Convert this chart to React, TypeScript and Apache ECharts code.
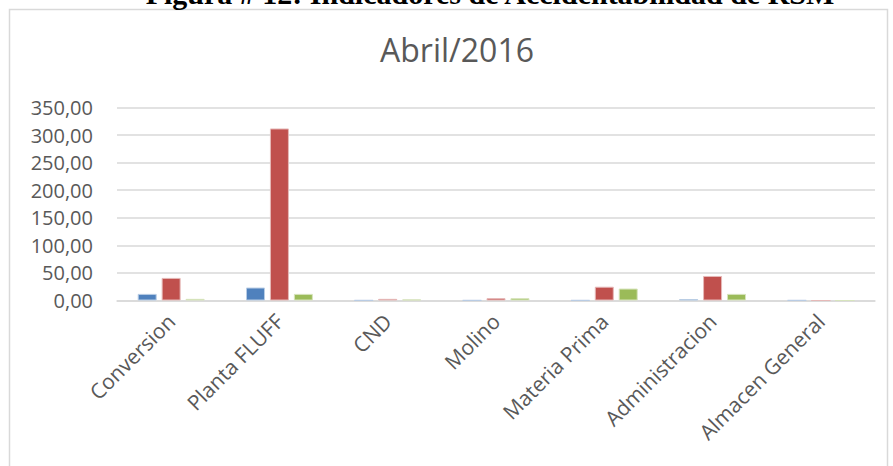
import React, { useEffect, useRef } from "react";
import * as echarts from "echarts";

const categories = ["Conversion", "Planta FLUFF", "CND", "Molino", "Materia Prima", "Administracion", "Almacen General"];
const seriesBlue = [12, 23.5, 0.5, 0.5, 0.5, 2.5, 0.5];
const seriesRed = [41, 312, 3, 4.3, 25, 44.5, 0];
const seriesGreen = [3, 12, 2, 4.3, 21.7, 12, 0];
const yTicks = { min: 0, max: 350, interval: 50 };
const chartTitle = "Abril/2016";
const figureCaption = "Figura # 12: Indicadores de Accidentabilidad de RSM";

const FONT = "'Open Sans', sans-serif";

export default function App() {
  const ref = useRef<HTMLDivElement>(null);
  useEffect(() => {
    if (!ref.current) return;
    const chart = echarts.init(ref.current, undefined, { renderer: "svg" });
    const mk = (name: string, data: number[], color: string, border: string) => ({
      name,
      type: "bar",
      data,
      barWidth: 19,
      barGap: "26%",
      itemStyle: { color, borderColor: border, borderWidth: 1 },
    });
    chart.setOption({
      animation: false,
      backgroundColor: "#ffffff",
      graphic: [
        {
          type: "rect",
          shape: { x: 9.5, y: 9.5, width: 878, height: 470 },
          style: { fill: "none", stroke: "#d9d9d9", lineWidth: 1.5 },
          silent: true,
        },
        {
          type: "text",
          x: 490,
          y: 8,
          style: {
            text: figureCaption,
            fill: "#000000",
            font: "bold 30px 'Liberation Serif', serif",
            align: "center",
            verticalAlign: "bottom",
          },
        },
      ],
      title: {
        text: chartTitle,
        left: 452,
        top: 28,
        textAlign: "center",
        textStyle: { fontFamily: FONT, fontSize: 32, fontWeight: "normal", color: "#595959" },
      },
      grid: { left: 117, right: 18, top: 107.5, bottom: 165.5, containLabel: false },
      xAxis: {
        type: "category",
        data: categories,
        axisLine: { lineStyle: { color: "#d9d9d9", width: 1.5 } },
        axisTick: { show: false },
        axisLabel: {
          rotate: 45,
          interval: 0,
          fontFamily: FONT,
          fontSize: 21,
          color: "#595959",
          margin: 17,
        },
      },
      yAxis: {
        type: "value",
        min: yTicks.min,
        max: yTicks.max,
        interval: yTicks.interval,
        axisLine: { show: false },
        axisTick: { show: false },
        splitLine: { lineStyle: { color: "#d9d9d9", width: 1.5 } },
        axisLabel: {
          fontFamily: FONT,
          fontSize: 20,
          color: "#595959",
          margin: 24,
          formatter: (v: number) => v.toFixed(2).replace(".", ","),
        },
      },
      series: [
        mk("Serie 1", seriesBlue, "#4f81bd", "#b9cde5"),
        mk("Serie 2", seriesRed, "#c0504d", "#e6b9b8"),
        mk("Serie 3", seriesGreen, "#9bbb59", "#d7e4bd"),
      ],
    });
    return () => chart.dispose();
  }, []);
  return (
    <div
      ref={ref}
      style={{ position: "fixed", left: 0, top: 0, width: 893, height: 466 }}
    />
  );
}
